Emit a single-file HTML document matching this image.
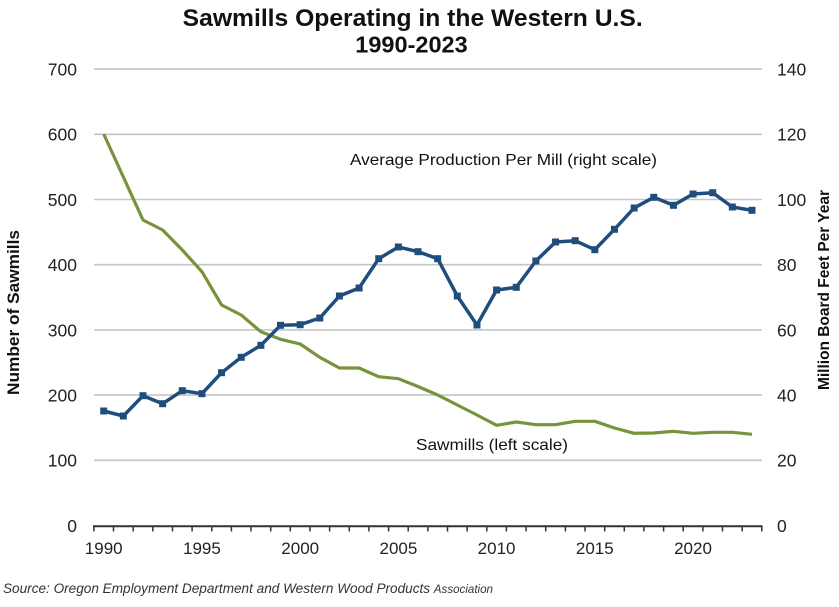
<!DOCTYPE html>
<html><head><meta charset="utf-8"><style>
html,body{margin:0;padding:0;background:#fff;}
svg{display:block;}
text{font-family:"Liberation Sans",Arial,sans-serif;}
</style></head><body>
<svg width="839" height="607" viewBox="0 0 839 607" xmlns="http://www.w3.org/2000/svg">
<rect width="839" height="607" fill="#fff"/>
<text x="412.7" y="26" font-size="24" font-weight="bold" text-anchor="middle" fill="#111" textLength="460" lengthAdjust="spacingAndGlyphs">Sawmills Operating in the Western U.S.</text>
<text x="411.5" y="52.5" font-size="23.5" font-weight="bold" text-anchor="middle" fill="#111">1990-2023</text>
<g stroke="#c6c6c6" stroke-width="1.6">
<line x1="94" x2="762" y1="69.1" y2="69.1"/>
<line x1="94" x2="762" y1="134.3" y2="134.3"/>
<line x1="94" x2="762" y1="199.5" y2="199.5"/>
<line x1="94" x2="762" y1="264.7" y2="264.7"/>
<line x1="94" x2="762" y1="329.9" y2="329.9"/>
<line x1="94" x2="762" y1="395.1" y2="395.1"/>
<line x1="94" x2="762" y1="460.3" y2="460.3"/>
</g>
<g font-size="17.5" fill="#222" text-anchor="end">
<text x="77" y="75.5">700</text>
<text x="77" y="140.7">600</text>
<text x="77" y="205.9">500</text>
<text x="77" y="271.1">400</text>
<text x="77" y="336.3">300</text>
<text x="77" y="401.5">200</text>
<text x="77" y="466.7">100</text>
<text x="77" y="532">0</text>
</g>
<g font-size="17.5" fill="#222">
<text x="777" y="75.5">140</text>
<text x="777" y="140.7">120</text>
<text x="777" y="205.9">100</text>
<text x="777" y="271.1">80</text>
<text x="777" y="336.3">60</text>
<text x="777" y="401.5">40</text>
<text x="777" y="466.7">20</text>
<text x="777" y="532">0</text>
</g>
<text transform="translate(19,312.5) rotate(-90)" font-size="16.5" font-weight="bold" text-anchor="middle" fill="#111" textLength="165" lengthAdjust="spacingAndGlyphs">Number of Sawmills</text>
<text transform="translate(829,290) rotate(-90)" font-size="15.5" font-weight="bold" text-anchor="middle" fill="#111" textLength="200" lengthAdjust="spacingAndGlyphs">Million Board Feet Per Year</text>
<line x1="93" x2="762.5" y1="526.2" y2="526.2" stroke="#333" stroke-width="2"/>
<g stroke="#333" stroke-width="1.5">
<path d="M93.9 526V531.5M113.5 526V531.5M133.2 526V531.5M152.8 526V531.5M172.5 526V531.5M192.1 526V531.5M211.8 526V531.5M231.4 526V531.5M251 526V531.5M270.7 526V531.5M290.3 526V531.5M310 526V531.5M329.6 526V531.5M349.3 526V531.5M368.9 526V531.5M388.6 526V531.5M408.2 526V531.5M427.9 526V531.5M447.5 526V531.5M467.1 526V531.5M486.8 526V531.5M506.4 526V531.5M526.1 526V531.5M545.7 526V531.5M565.4 526V531.5M585 526V531.5M604.7 526V531.5M624.3 526V531.5M643.9 526V531.5M663.6 526V531.5M683.2 526V531.5M702.9 526V531.5M722.5 526V531.5M742.2 526V531.5M761.8 526V531.5"/>
</g>
<g font-size="17" fill="#222" text-anchor="middle">
<text x="103.7" y="554">1990</text>
<text x="201.9" y="554">1995</text>
<text x="300.2" y="554">2000</text>
<text x="398.4" y="554">2005</text>
<text x="496.6" y="554">2010</text>
<text x="594.8" y="554">2015</text>
<text x="693" y="554">2020</text>
</g>
<polyline fill="none" stroke="#77933c" stroke-width="3.2" stroke-linejoin="round" points="103.7,134 123.35,177 142.99,220 162.64,230 182.28,250 201.93,271.7 221.57,305 241.22,315 260.86,331.7 280.51,339.3 300.15,344 319.8,357.3 339.44,368 359.09,368 378.73,376.7 398.38,378.7 418.02,386.5 437.67,395 457.31,405 476.96,415 496.6,425.3 516.25,422 535.89,424.7 555.54,424.7 575.18,421.3 594.83,421.3 614.47,428 634.12,433.3 653.76,433 673.41,431.3 693.05,433.3 712.7,432.3 732.34,432.3 751.99,434.3"/>
<polyline fill="none" stroke="#1f4e7d" stroke-width="3.5" stroke-linejoin="round" points="103.7,411 123.35,416 142.99,395.7 162.64,403.7 182.28,390.7 201.93,393.7 221.57,372.7 241.22,357.3 260.86,345.3 280.51,325.3 300.15,324.7 319.8,318 339.44,296 359.09,288 378.73,258.7 398.38,247 418.02,251.7 437.67,258.7 457.31,296 476.96,325 496.6,290 516.25,287.3 535.89,261 555.54,242 575.18,240.7 594.83,249.7 614.47,229.3 634.12,208 653.76,197.3 673.41,205.3 693.05,194 712.7,192.7 732.34,207 751.99,210.3"/>
<g fill="#1f4e7d">
<rect x="100.2" y="407.5" width="7" height="7"/>
<rect x="119.85" y="412.5" width="7" height="7"/>
<rect x="139.49" y="392.2" width="7" height="7"/>
<rect x="159.14" y="400.2" width="7" height="7"/>
<rect x="178.78" y="387.2" width="7" height="7"/>
<rect x="198.43" y="390.2" width="7" height="7"/>
<rect x="218.07" y="369.2" width="7" height="7"/>
<rect x="237.72" y="353.8" width="7" height="7"/>
<rect x="257.36" y="341.8" width="7" height="7"/>
<rect x="277.01" y="321.8" width="7" height="7"/>
<rect x="296.65" y="321.2" width="7" height="7"/>
<rect x="316.3" y="314.5" width="7" height="7"/>
<rect x="335.94" y="292.5" width="7" height="7"/>
<rect x="355.59" y="284.5" width="7" height="7"/>
<rect x="375.23" y="255.2" width="7" height="7"/>
<rect x="394.88" y="243.5" width="7" height="7"/>
<rect x="414.52" y="248.2" width="7" height="7"/>
<rect x="434.17" y="255.2" width="7" height="7"/>
<rect x="453.81" y="292.5" width="7" height="7"/>
<rect x="473.46" y="321.5" width="7" height="7"/>
<rect x="493.1" y="286.5" width="7" height="7"/>
<rect x="512.75" y="283.8" width="7" height="7"/>
<rect x="532.39" y="257.5" width="7" height="7"/>
<rect x="552.04" y="238.5" width="7" height="7"/>
<rect x="571.68" y="237.2" width="7" height="7"/>
<rect x="591.33" y="246.2" width="7" height="7"/>
<rect x="610.97" y="225.8" width="7" height="7"/>
<rect x="630.62" y="204.5" width="7" height="7"/>
<rect x="650.26" y="193.8" width="7" height="7"/>
<rect x="669.91" y="201.8" width="7" height="7"/>
<rect x="689.55" y="190.5" width="7" height="7"/>
<rect x="709.2" y="189.2" width="7" height="7"/>
<rect x="728.84" y="203.5" width="7" height="7"/>
<rect x="748.49" y="206.8" width="7" height="7"/>
</g>
<text x="350" y="165" font-size="16" fill="#111" textLength="307" lengthAdjust="spacingAndGlyphs">Average Production Per Mill (right scale)</text>
<text x="416" y="450" font-size="16" fill="#111" textLength="152" lengthAdjust="spacingAndGlyphs">Sawmills (left scale)</text>
<text x="3" y="593" font-size="13.5" font-style="italic" fill="#333" textLength="490" lengthAdjust="spacingAndGlyphs">Source: Oregon Employment Department and Western Wood Products <tspan font-size="11.5">Association</tspan></text>
</svg>
</body></html>
